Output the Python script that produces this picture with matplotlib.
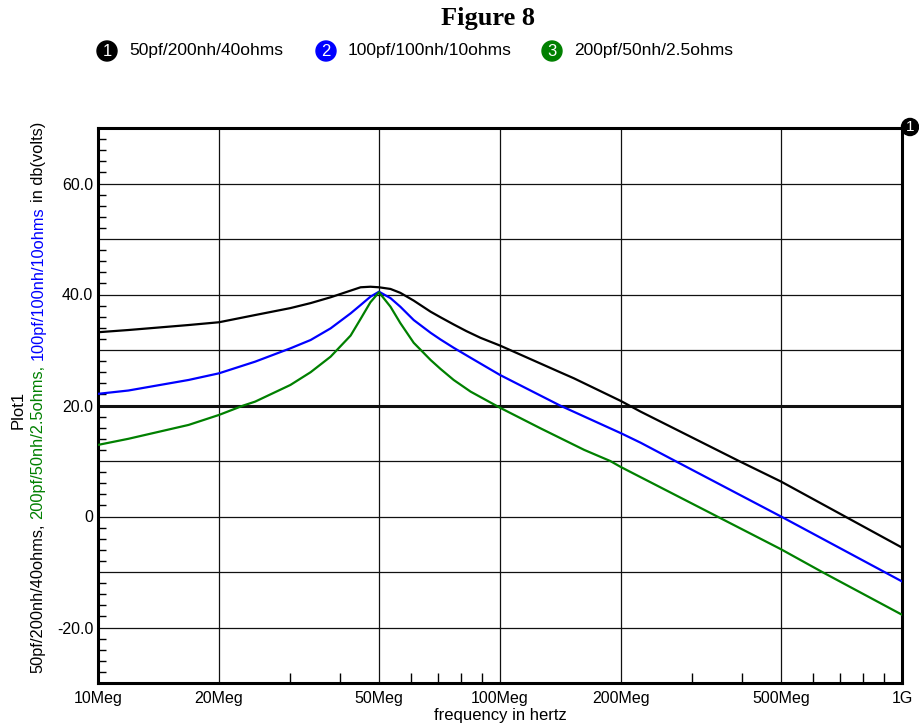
import matplotlib
matplotlib.use("Agg")
import matplotlib.pyplot as plt
from matplotlib.ticker import FixedLocator, FixedFormatter, NullFormatter
from matplotlib.transforms import IdentityTransform

plt.rcParams['font.family'] = ['Liberation Sans', 'DejaVu Sans']

# frequency (MHz) and level (dB), one set per trace
freq_black = [10, 11.9, 16.8, 20, 24.6, 30.1, 33.8, 37.9, 42.5, 45, 47.6, 50, 53.4, 56.5, 61,
              67.2, 71.1, 76.7, 82.5, 89.4, 100, 141, 152.7, 200, 223.7, 393, 500, 1000]
db_black = [33.2, 33.6, 34.5, 35.0, 36.3, 37.55, 38.45, 39.5, 40.7, 41.3, 41.4, 41.3, 41.0, 40.3, 38.9,
            36.9, 35.9, 34.6, 33.4, 32.2, 30.8, 26.0, 24.9, 20.8, 18.9, 10.0, 6.3, -5.6]

freq_blue = [10, 11.9, 16.8, 20, 24.6, 30.1, 33.8, 37.9, 42.5, 45, 47.6, 50, 53.4, 56.5, 61,
             67.2, 71.1, 76.7, 84.5, 100, 141, 200, 223.7, 268, 500, 1000]
db_blue = [22.1, 22.7, 24.6, 25.8, 27.9, 30.3, 31.8, 33.9, 36.6, 38.1, 39.6, 40.5, 39.35, 37.8, 35.4,
           33.1, 31.9, 30.4, 28.6, 25.5, 20.0, 15.0, 13.3, 10.3, 0.0, -11.7]

freq_green = [10, 11.9, 16.8, 20, 23, 24.6, 30.1, 33.8, 37.9, 42.5, 45, 47.6, 50, 53.4, 56.5, 61,
              67.2, 71.1, 76.7, 84.5, 100, 126, 162, 188, 200, 347, 500, 633, 1000]
db_green = [12.9, 14.0, 16.5, 18.3, 20.0, 20.7, 23.7, 26.0, 28.8, 32.6, 35.6, 38.6, 40.4, 37.8, 34.85,
            31.3, 28.2, 26.6, 24.6, 22.5, 19.6, 15.9, 12.0, 10.0, 8.9, 0.0, -5.9, -10.0, -17.7]

trace_names = ['50pf/200nh/40ohms', '100pf/100nh/10ohms', '200pf/50nh/2.5ohms']
trace_colors = ['black', '#0000ff', '#008000']

x_major = [10e6, 20e6, 50e6, 100e6, 200e6, 500e6, 1e9]
x_major_labels = ['10Meg', '20Meg', '50Meg', '100Meg', '200Meg', '500Meg', '1G']
x_minor = [30e6, 40e6, 60e6, 70e6, 80e6, 90e6, 300e6, 400e6, 600e6, 700e6, 800e6, 900e6]
y_major = [-30, -20, -10, 0, 10, 20, 30, 40, 50, 60, 70]
y_major_labels = ['', '-20.0', '', '0', '', '20.0', '', '40.0', '', '60.0', '']

W, H = 920, 726
fig = plt.figure(figsize=(W / 100, H / 100), dpi=100)
ax = fig.add_axes([98 / W, (H - 683) / H, 804 / W, 555 / H])

# grid first, traces on top
for yv in y_major[1:-1]:
    ax.axhline(yv, color='#111111', lw=0.9 if yv != 20 else 2.2, zorder=1)
for xv in x_major[1:-1]:
    ax.axvline(xv, color='#111111', lw=0.9, zorder=1)

ax.semilogx([f * 1e6 for f in freq_black], db_black, color=trace_colors[0], lw=1.6, zorder=3)
ax.semilogx([f * 1e6 for f in freq_blue], db_blue, color=trace_colors[1], lw=1.6, zorder=3)
ax.semilogx([f * 1e6 for f in freq_green], db_green, color=trace_colors[2], lw=1.6, zorder=3)

ax.set_xlim(10e6, 1e9)
ax.set_ylim(-30, 70)

ax.xaxis.set_major_locator(FixedLocator(x_major))
ax.xaxis.set_major_formatter(FixedFormatter(x_major_labels))
ax.xaxis.set_minor_locator(FixedLocator(x_minor))
ax.xaxis.set_minor_formatter(NullFormatter())
ax.yaxis.set_major_locator(FixedLocator(y_major))
ax.yaxis.set_major_formatter(FixedFormatter(y_major_labels))
ax.yaxis.set_minor_locator(FixedLocator([v for v in range(-28, 70, 2) if v % 10 != 0]))

ax.tick_params(axis='both', which='major', length=0, labelsize=11.5)
ax.tick_params(axis='x', which='major', pad=6)
ax.tick_params(axis='y', which='major', pad=3.5)
ax.tick_params(axis='x', which='minor', direction='in', length=7, width=1)
ax.tick_params(axis='y', which='minor', direction='in', length=6, width=1)

for sp in ax.spines.values():
    sp.set_linewidth(2.2)

ax.set_xlabel('frequency in hertz', fontsize=12, labelpad=1)

# title and legend row
fig.text(488 / W, 1 - 18 / H, 'Figure 8', family=['Liberation Serif'], fontweight='bold',
         fontsize=19, ha='center', va='center')

legend_x = [107, 326, 552]
for i, (name, col) in enumerate(zip(trace_names, trace_colors)):
    fig.text(legend_x[i] / W, 1 - 51 / H, str(i + 1), color='white', fontsize=12,
             ha='center', va='center',
             bbox=dict(boxstyle='circle,pad=0.15', fc=col, ec=col))
    fig.text((legend_x[i] + 22) / W, 1 - 51 / H, name, fontsize=12.5, ha='left', va='center')

# marker at top right corner of plot
fig.text(910 / W, 1 - 127 / H, '1', color='white', fontsize=11, ha='center', va='center',
         bbox=dict(boxstyle='circle,pad=0.1', fc='black', ec='black'))

# multi-coloured y label, built piece by piece
fig.text(18, H - 410, 'Plot1', transform=IdentityTransform(), rotation=90,
         ha='center', va='center', fontsize=12)

pieces = [('50pf/200nh/40ohms,', 'black'), ('200pf/50nh/2.5ohms,', '#008000'),
          ('100pf/100nh/10ohms', '#0000ff'), ('in db(volts)', 'black')]
fig.canvas.draw()
renderer = fig.canvas.get_renderer()
ylab_size = 11.8
gap = ylab_size * 100 / 72 * 0.28
texts = []
for s, c in pieces:
    t = fig.text(38, 0, s, transform=IdentityTransform(), rotation=90, ha='center',
                 va='bottom', fontsize=ylab_size, color=c)
    texts.append(t)
lengths = [t.get_window_extent(renderer).height for t in texts]
total = sum(lengths) + gap * (len(texts) - 1)
y0 = (H - 397) - total / 2
for t, ln in zip(texts, lengths):
    t.set_y(y0)
    y0 += ln + gap

fig.savefig('out.png', dpi=100)
